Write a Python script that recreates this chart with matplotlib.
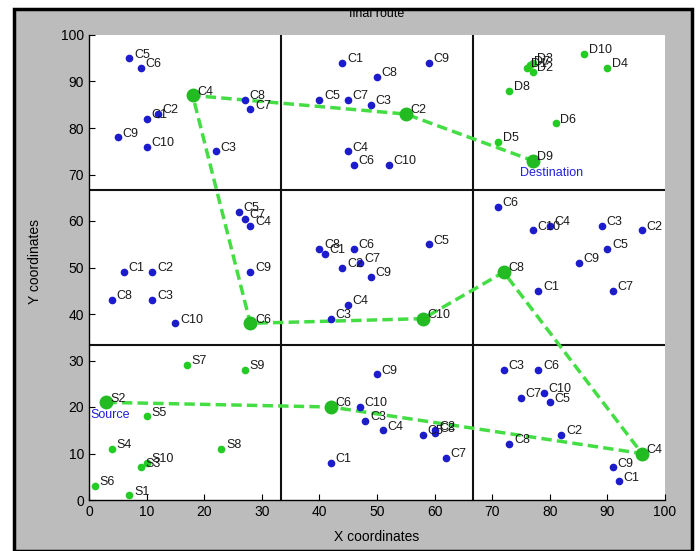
import matplotlib
matplotlib.use("Agg")
import matplotlib.pyplot as plt
from matplotlib.patches import Rectangle

plt.rcParams['font.family'] = ['Liberation Sans', 'DejaVu Sans']

# ---- data ----
# source cell (green points)
src_labels = ["S1", "S2", "S3", "S4", "S5", "S6", "S7", "S8", "S9", "S10"]
src_x = [7, 3, 9, 4, 10, 1, 17, 23, 27, 10]
src_y = [1, 21, 7, 11, 18, 3, 29, 11, 28, 8]

# destination cell (green points)
dst_labels = ["D1", "D2", "D3", "D4", "D5", "D6", "D7", "D8", "D9", "D10"]
dst_x = [76, 77, 77, 90, 71, 81, 76.5, 73, 77, 86]
dst_y = [93, 92, 94, 93, 77, 81, 93.5, 88, 73, 96]

# intermediate cells (blue points)
c_labels = ["C1", "C2", "C3", "C4", "C5", "C6", "C7", "C8", "C9", "C10"]
tl_x = [10, 12, 22, 18, 7, 9, 28, 27, 5, 10]
tl_y = [82, 83, 75, 87, 95, 93, 84, 86, 78, 76]
tm_x = [44, 55, 49, 45, 40, 46, 45, 50, 59, 52]
tm_y = [94, 83, 85, 75, 86, 72, 86, 91, 94, 72]
ml_x = [6, 11, 11, 28, 26, 28, 27, 4, 28, 15]
ml_y = [49, 49, 43, 59, 62, 38, 60.5, 43, 49, 38]
mm_x = [41, 44, 42, 45, 59, 46, 47, 40, 49, 58]
mm_y = [53, 50, 39, 42, 55, 54, 51, 54, 48, 39]
mr_x = [78, 96, 89, 80, 90, 71, 91, 72, 85, 77]
mr_y = [45, 58, 59, 59, 54, 63, 45, 49, 51, 58]
bm_x = [42, 60, 48, 51, 58, 42, 62, 60, 50, 47]
bm_y = [8, 15, 17, 15, 14, 20, 9, 14.5, 27, 20]
br_x = [92, 82, 72, 96, 80, 78, 75, 73, 91, 79]
br_y = [4, 14, 28, 10, 21, 28, 22, 12, 7, 23]

# chosen route (source -> destination)
route_x = [3, 42, 96, 72, 58, 28, 18, 55, 77]
route_y = [21, 20, 10, 49, 39, 38, 87, 83, 73]

grid_lines = [100 / 3, 200 / 3]
ticks = list(range(0, 101, 10))

# ---- figure ----
W, H = 699, 551
fig = plt.figure(figsize=(W / 100, H / 100), dpi=100, facecolor='white')
frame = Rectangle((14 / W, 0), (692 - 14) / W, (H - 9) / H,
                  transform=fig.transFigure, facecolor='#bcbcbc',
                  edgecolor='black', linewidth=2.5, zorder=-10)
fig.patches.append(frame)

ax = fig.add_axes([89 / W, (H - 500) / H, (665 - 89) / W, 465 / H])
ax.set_zorder(1)
ax.set_facecolor('white')
ax.set_xlim(0, 100)
ax.set_ylim(0, 100)

blue = '#1c1ccc'
green = '#22cc22'
lab_kw = dict(fontsize=9, color='#1a1a1a', ha='left', va='center', zorder=6)


def draw_group(xs, ys, labels, color):
    ax.plot(xs, ys, linestyle='none', marker='o', markersize=4.5,
            color=color, zorder=4)
    for x, y, t in zip(xs, ys, labels):
        ax.text(x + 0.8, y + 0.8, t, **lab_kw)


for xs, ys in [(tl_x, tl_y), (tm_x, tm_y), (ml_x, ml_y), (mm_x, mm_y),
               (mr_x, mr_y), (bm_x, bm_y), (br_x, br_y)]:
    draw_group(xs, ys, c_labels, blue)
draw_group(src_x, src_y, src_labels, green)
draw_group(dst_x, dst_y, dst_labels, green)

for g in grid_lines:
    ax.axvline(g, color='#111111', linewidth=1.5, zorder=2)
    ax.axhline(g, color='#111111', linewidth=1.5, zorder=2)

ax.plot(route_x, route_y, linestyle=(0, (3, 1.5)), color='#44dd44',
        linewidth=2.5, zorder=3)
ax.plot(route_x, route_y, linestyle='none', marker='o', markersize=9,
        color='#22bb22', zorder=5)

ax.text(0.3, 18.3, "Source", color='#2020dd', fontsize=9,
        ha='left', va='center', zorder=6)
ax.text(74.8, 70.3, "Destination", color='#2020dd', fontsize=9,
        ha='left', va='center', zorder=6)

ax.set_xticks(ticks)
ax.set_yticks(ticks)
ax.tick_params(direction='in', length=4, labelsize=10, colors='black',
               top=False, right=False)
for s in ['top', 'right']:
    ax.spines[s].set_visible(False)
for s in ['left', 'bottom']:
    ax.spines[s].set_linewidth(1.0)

fig.text(377 / W, 1 - 537 / H, "X coordinates", ha='center', va='center',
         fontsize=10, zorder=2)
fig.text(35 / W, 1 - 262 / H, "Y coordinates", ha='center', va='center',
         fontsize=10, rotation=90, zorder=2)
fig.text(377 / W, 1 - 14 / H, "final route", ha='center', va='center',
         fontsize=9, zorder=2)

fig.savefig("out.png", dpi=100, facecolor=fig.get_facecolor())
